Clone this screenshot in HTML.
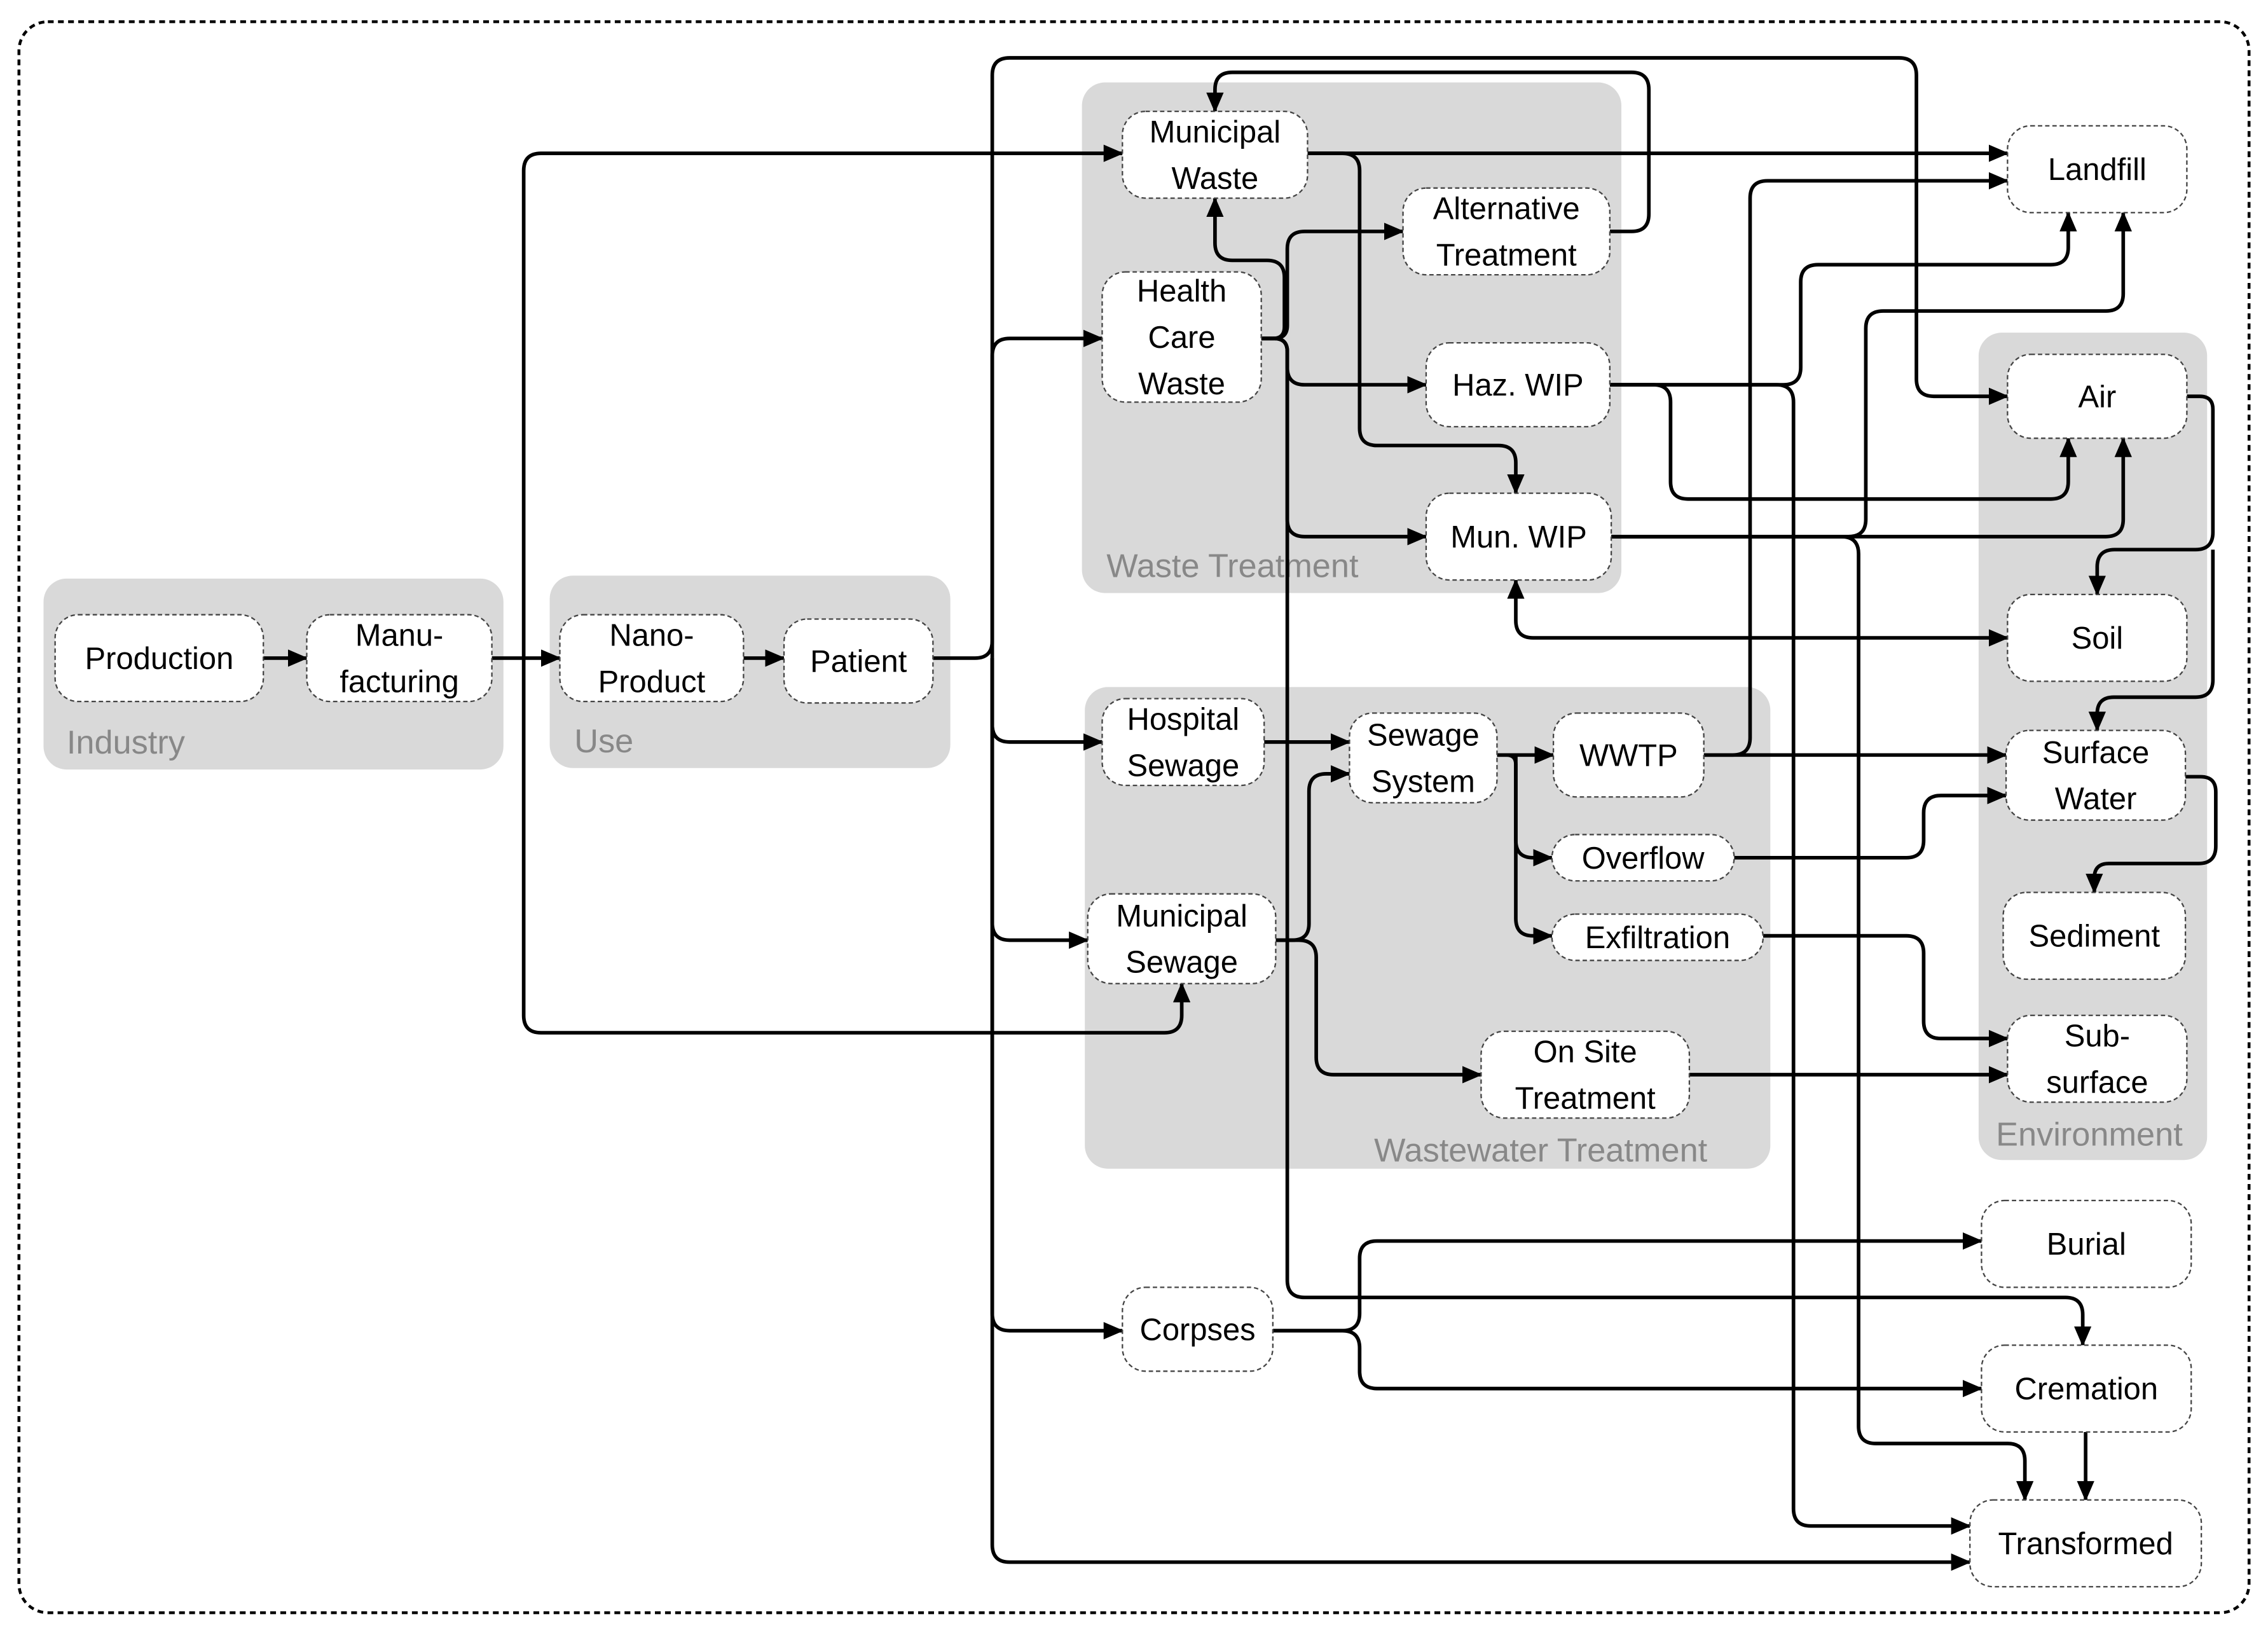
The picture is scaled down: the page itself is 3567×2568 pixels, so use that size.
<!DOCTYPE html>
<html><head><meta charset="utf-8">
<style>
html,body{margin:0;padding:0;background:#fff;}
svg{display:block;}
text{font-family:"Liberation Sans",sans-serif;}
</style></head>
<body>
<svg id="s" width="3567" height="2568" viewBox="0 0 1568 1129" xmlns="http://www.w3.org/2000/svg">
<defs>
<marker id="a" markerWidth="14" markerHeight="12" refX="13" refY="6" orient="auto" markerUnits="userSpaceOnUse">
<path d="M0,0 L14,6 L0,12 z" fill="#000"/>
</marker>
</defs>
<rect x="13" y="15" width="1542" height="1100" rx="20" fill="none" stroke="#000" stroke-width="2" stroke-dasharray="4 3"/>
<g fill="#d9d9d9">
<rect x="30" y="400" width="318" height="132" rx="16"/>
<rect x="380" y="398" width="277" height="133" rx="16"/>
<rect x="748" y="57" width="373" height="353" rx="16"/>
<rect x="750" y="475" width="474" height="333" rx="16"/>
<rect x="1368" y="230" width="158" height="572" rx="16"/>
</g>
<g fill="#888" font-size="23">
<text x="46" y="521">Industry</text>
<text x="397" y="520">Use</text>
<text x="765" y="399">Waste Treatment</text>
<text x="950" y="803">Wastewater Treatment</text>
<text x="1380" y="792">Environment</text>
</g>
<g id="edges" fill="none" stroke="#000" stroke-width="2.5"></g>
<g id="boxes" fill="#fff" stroke="#444" stroke-width="1" stroke-dasharray="3 2"></g>
<g id="labels" font-size="21.5" text-anchor="middle" fill="#000"></g>
</svg>
<script>
var NS="http://www.w3.org/2000/svg";
var boxes=[
[38,425,144,60,["Production"]],
[212,425,128,60,["Manu-","facturing"]],
[387,425,127,60,["Nano-","Product"]],
[542,428,103,58,["Patient"]],
[776,77,128,60,["Municipal","Waste"]],
[970,130,143,60,["Alternative","Treatment"]],
[762,188,110,90,["Health","Care","Waste"]],
[986,237,127,58,["Haz. WIP"]],
[986,341,128,60,["Mun. WIP"]],
[762,483,112,60,["Hospital","Sewage"]],
[933,493,102,62,["Sewage","System"]],
[1074,493,104,58,["WWTP"]],
[1073,577,126,32,["Overflow"]],
[1073,632,146,32,["Exfiltration"]],
[752,618,130,62,["Municipal","Sewage"]],
[1024,713,144,60,["On Site","Treatment"]],
[776,890,104,58,["Corpses"]],
[1388,87,124,60,["Landfill"]],
[1388,245,124,58,["Air"]],
[1388,411,124,60,["Soil"]],
[1387,505,124,62,["Surface","Water"]],
[1385,617,126,60,["Sediment"]],
[1388,702,124,60,["Sub-","surface"]],
[1370,830,145,60,["Burial"]],
[1370,930,145,60,["Cremation"]],
[1362,1037,160,60,["Transformed"]]
];
var E=[
[[182,455],[212,455]],
[[340,455],[387,455]],
[[362,455],[362,106],[776,106]],
[[362,455],[362,714],[817,714],[817,680]],
[[514,455],[542,455]],
[[645,455],[686,455],[686,40],[1325,40],[1325,274],[1388,274]],
[[686,455],[686,234],[762,234]],
[[686,455],[686,513],[762,513]],
[[686,455],[686,650],[752,650]],
[[686,455],[686,920],[776,920]],
[[686,455],[686,1080],[1362,1080]],
[[904,106],[1388,106]],
[[904,106],[940,106],[940,308],[1048,308],[1048,341]],
[[1113,160],[1140,160],[1140,50],[840,50],[840,77]],
[[872,234],[888,234],[888,180],[840,180],[840,137]],
[[872,234],[890,234],[890,160],[970,160]],
[[872,234],[890,234],[890,266],[986,266]],
[[872,234],[890,234],[890,371],[986,371]],
[[872,234],[890,234],[890,897],[1440,897],[1440,930]],
[[1113,266],[1245,266],[1245,183],[1430,183],[1430,147]],
[[1113,266],[1155,266],[1155,345],[1430,345],[1430,303]],
[[1113,266],[1240,266],[1240,1055],[1362,1055]],
[[1114,371],[1468,371],[1468,303]],
[[1114,371],[1290,371],[1290,215],[1468,215],[1468,147]],
[[1114,371],[1285,371],[1285,998],[1400,998],[1400,1037]],
[[874,513],[933,513]],
[[882,650],[905,650],[905,535],[933,535]],
[[882,650],[910,650],[910,743],[1024,743]],
[[1035,522],[1074,522]],
[[1035,522],[1048,522],[1048,593],[1073,593]],
[[1048,522],[1048,647],[1073,647]],
[[1178,522],[1387,522]],
[[1178,522],[1210,522],[1210,125],[1388,125]],
[[1210,441],[1388,441]],
[[1210,441],[1048,441],[1048,401]],
[[1199,593],[1330,593],[1330,550],[1387,550]],
[[1219,647],[1330,647],[1330,718],[1388,718]],
[[1168,743],[1388,743]],
[[1512,274],[1530,274],[1530,380],[1450,380],[1450,411]],
[[1530,380],[1530,482],[1450,482],[1450,505]],
[[1511,537],[1532,537],[1532,597],[1448,597],[1448,617]],
[[880,920],[940,920],[940,858],[1370,858]],
[[880,920],[940,920],[940,960],[1370,960]],
[[1442,990],[1442,1037]]
];
function path(p){
  var R=12,d="M"+p[0][0]+","+p[0][1];
  for(var i=1;i<p.length-1;i++){
    var a=p[i-1],b=p[i],c=p[i+1];
    var l1=Math.hypot(b[0]-a[0],b[1]-a[1]),l2=Math.hypot(c[0]-b[0],c[1]-b[1]);
    var r=Math.min(R,l1/2,l2/2);
    var x1=b[0]-(b[0]-a[0])/l1*r,y1=b[1]-(b[1]-a[1])/l1*r;
    var x2=b[0]+(c[0]-b[0])/l2*r,y2=b[1]+(c[1]-b[1])/l2*r;
    d+=" L"+x1+","+y1+" Q"+b[0]+","+b[1]+" "+x2+","+y2;
  }
  var e=p[p.length-1];d+=" L"+e[0]+","+e[1];return d;
}
var eg=document.getElementById("edges");
E.forEach(function(p){var el=document.createElementNS(NS,"path");el.setAttribute("d",path(p));el.setAttribute("marker-end","url(#a)");eg.appendChild(el);});
var bg=document.getElementById("boxes"),lg=document.getElementById("labels");
boxes.forEach(function(b){
  var r=document.createElementNS(NS,"rect");
  r.setAttribute("x",b[0]);r.setAttribute("y",b[1]);r.setAttribute("width",b[2]);r.setAttribute("height",b[3]);
  r.setAttribute("rx",Math.min(16,b[3]/2));bg.appendChild(r);
  var n=b[4].length,lh=32,cx=b[0]+b[2]/2,cy=b[1]+b[3]/2;
  b[4].forEach(function(s,i){
    var t=document.createElementNS(NS,"text");
    t.setAttribute("x",cx);t.setAttribute("y",cy+(i-(n-1)/2)*lh+7.5);
    t.textContent=s;lg.appendChild(t);
  });
});
</script>
</body></html>
